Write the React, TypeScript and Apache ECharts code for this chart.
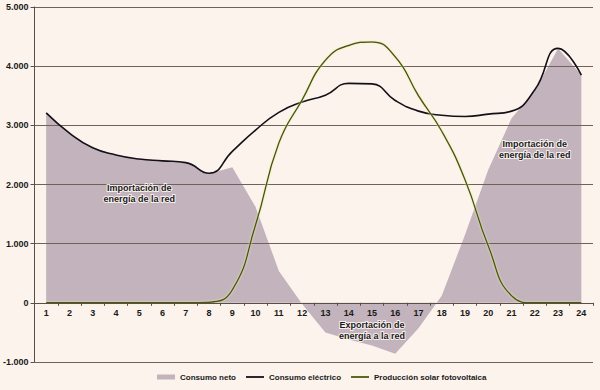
import React, { useEffect, useRef } from "react";
import * as echarts from "echarts";

const hours = ["1","2","3","4","5","6","7","8","9","10","11","12","13","14","15","16","17","18","19","20","21","22","23","24"];
const consumoNeto = [3200, 2870, 2620, 2500, 2430, 2400, 2370, 2180, 2290, 1620, 540, -20, -500, -620, -720, -860, -430, 120, 1150, 2250, 3120, 3580, 4300, 3850];
const consumoElectrico = [3210, 2870, 2620, 2500, 2430, 2400, 2370, 2190, 2560, 2920, 3220, 3395, 3510, 3710, 3700, 3420, 3240, 3170, 3150, 3190, 3240, 3600, 4300, 3850];
const produccionSolar = [0, 0, 0, 0, 0, 0, 0, 10, 220, 1320, 2700, 3430, 4100, 4350, 4410, 4160, 3500, 2900, 2080, 960, 120, 0, 0, 0];
const yTicks = [-1000, 0, 1000, 2000, 3000, 4000, 5000];

const FONT = "'Liberation Sans', Arial, sans-serif";
const fmt = (v: number) => {
  const s = Math.abs(v).toString().replace(/\B(?=(\d{3})+(?!\d))/g, ".");
  return (v < 0 ? "-" : "") + s;
};

export default function App() {
  const ref = useRef<HTMLDivElement>(null);
  useEffect(() => {
    const chart = echarts.init(ref.current!, null, { renderer: "svg" });
    const labelStyle = {
      fontFamily: FONT,
      fontSize: 9,
      fontWeight: "bold",
      color: "#1a1a1a",
      textBorderColor: "rgba(255,250,245,0.85)",
      textBorderWidth: 2,
      align: "center",
      lineHeight: 11,
    };
    chart.setOption({
      animation: false,
      backgroundColor: "#fcf3ec",
      textStyle: { fontFamily: FONT },
      grid: { left: 33, right: 7, top: 7, bottom: 28 },
      legend: {
        bottom: 4,
        left: 152,
        itemWidth: 18,
        itemHeight: 5,
        itemGap: 10,
        textStyle: { fontFamily: FONT, fontSize: 8, fontWeight: "bold", color: "#1a1a1a" },
        data: [
          { name: "Consumo neto", icon: "rect" },
          { name: "Consumo eléctrico", icon: "path://M0,4L20,4L20,6L0,6Z" },
          { name: "Producción solar fotovoltaica", icon: "path://M0,4L20,4L20,6L0,6Z" },
        ],
      },
      xAxis: {
        type: "category",
        data: hours,
        boundaryGap: true,
        position: "bottom",
        offset: -59.2,
        z: 10,
        axisLine: { onZero: false, lineStyle: { color: "#5a4e47", width: 1 } },
        axisTick: { show: true, length: 3, lineStyle: { color: "#5a4e47" } },
        axisLabel: { fontFamily: FONT, fontSize: 9, fontWeight: "bold", color: "#1a1a1a", margin: 6 },
      },
      yAxis: {
        type: "value",
        min: -1000,
        max: 5000,
        interval: 1000,
        z: 2,
        axisLine: { show: true, lineStyle: { color: "#5a4e47", width: 1 } },
        axisTick: { show: true, length: 4, lineStyle: { color: "#5a4e47" } },
        splitLine: { show: true, lineStyle: { color: "#6e625a", width: 1 } },
        axisLabel: {
          fontFamily: FONT,
          fontSize: 9,
          fontWeight: "bold",
          color: "#1a1a1a",
          margin: 6,
          formatter: (v: number) => (yTicks.includes(v) ? fmt(v) : ""),
        },
      },
      series: [
        {
          name: "Consumo neto",
          type: "line",
          data: consumoNeto,
          smooth: false,
          symbol: "none",
          lineStyle: { width: 0, color: "#c3b3bd" },
          itemStyle: { color: "#c3b3bd" },
          areaStyle: { color: "#c3b3bd", opacity: 1 },
          z: 1,
          markPoint: {
            symbol: "rect",
            symbolSize: 0,
            silent: true,
            z: 8,
            label: { show: true, ...labelStyle },
            data: [
              { coord: ["5", 1850], value: "Importación de\nenergía de la red" },
              { coord: ["22", 2600], value: "Importación de\nenergía de la red" },
              { coord: [14.4, -470], value: "Exportación de\nenergía a la red" },
            ],
          },
        },
        {
          name: "Consumo eléctrico",
          type: "line",
          data: consumoElectrico,
          smooth: 0.5,
          symbol: "none",
          lineStyle: { width: 1.6, color: "#141018" },
          itemStyle: { color: "#141018" },
          z: 6,
        },
        {
          name: "Producción solar fotovoltaica",
          type: "line",
          data: produccionSolar,
          smooth: 0.5,
          symbol: "none",
          lineStyle: { width: 1.5, color: "#4a5a08", shadowColor: "rgba(240,240,170,0.9)", shadowBlur: 2 },
          itemStyle: { color: "#4a5a08" },
          z: 7,
        },
      ],
    });
    return () => chart.dispose();
  }, []);
  return <div ref={ref} style={{ width: 600, height: 390, position: "absolute", left: 0, top: 0 }} />;
}
